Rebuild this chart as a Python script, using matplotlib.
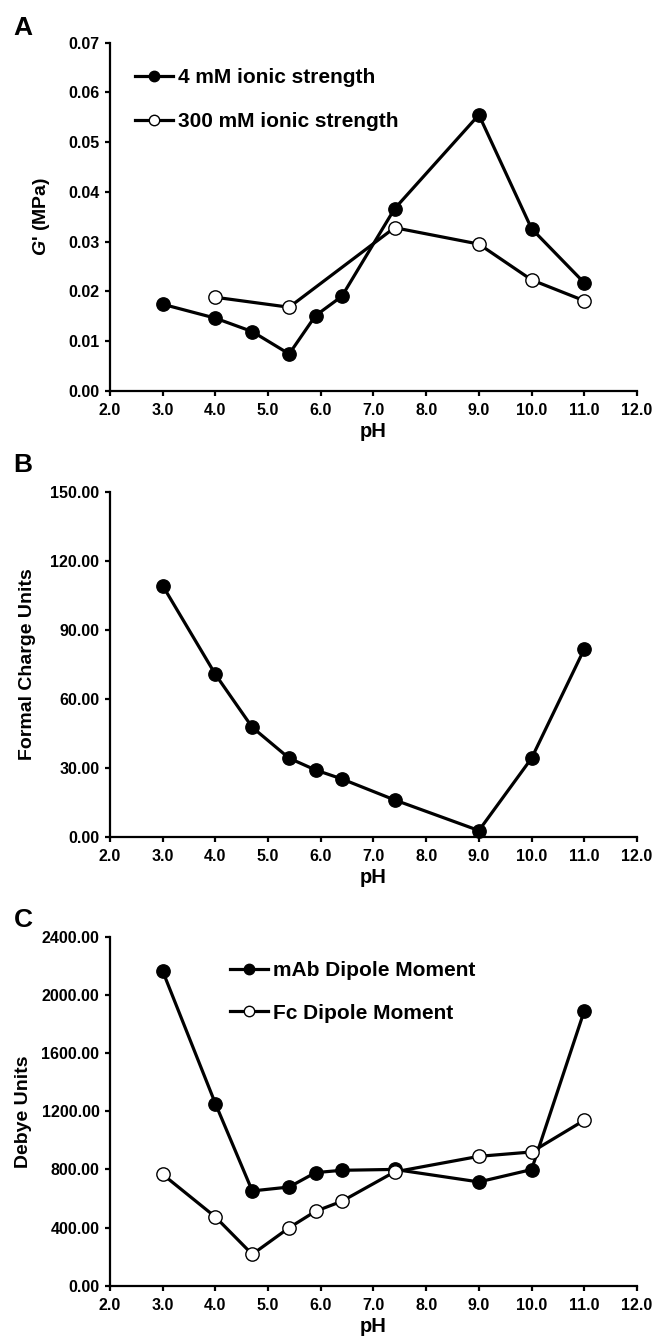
import matplotlib
matplotlib.use('Agg')
import matplotlib.pyplot as plt
import numpy as np
from matplotlib.ticker import FormatStrFormatter

plt.rcParams['font.family'] = ['Liberation Sans', 'DejaVu Sans']
plt.rcParams['font.weight'] = 'bold'
plt.rcParams['mathtext.fontset'] = 'custom'
plt.rcParams['mathtext.it'] = 'Liberation Sans:italic:bold'
plt.rcParams['mathtext.rm'] = 'Liberation Sans:bold'

# panel A - storage modulus
ph_4mM = [3.0, 4.0, 4.7, 5.4, 5.9, 6.4, 7.4, 9.0, 10.0, 11.0]
g_4mM = [0.0174, 0.0146, 0.0119, 0.0074, 0.0151, 0.0190, 0.0366, 0.0555, 0.0326, 0.0217]
ph_300mM = [4.0, 5.4, 7.4, 9.0, 10.0, 11.0]
g_300mM = [0.0188, 0.0168, 0.0328, 0.0295, 0.0223, 0.0181]

# panel B - formal charge
ph_charge = [3.0, 4.0, 4.7, 5.4, 5.9, 6.4, 7.4, 9.0, 10.0, 11.0]
charge = [109.2, 70.7, 47.7, 34.3, 29.2, 25.3, 16.2, 2.9, 34.3, 81.7]

# panel C - dipole moments
ph_dip = [3.0, 4.0, 4.7, 5.4, 5.9, 6.4, 7.4, 9.0, 10.0, 11.0]
mab_dipole = [2164, 1253, 652, 679, 778, 794, 800, 714, 799, 1891]
fc_dipole = [766, 473, 216, 399, 512, 581, 783, 890, 920, 1138]

xticks = np.arange(2.0, 12.1, 1.0)

fig = plt.figure(figsize=(6.55, 13.4), dpi=100)
left, width = 0.1679, 0.8046
axA = fig.add_axes([left, 0.7084, width, 0.2597])
axB = fig.add_axes([left, 0.3752, width, 0.2579])
axC = fig.add_axes([left, 0.0405, width, 0.2604])

line_kw = dict(color='black', lw=2.3, marker='o', ms=9.6, mew=1.0, mec='black', clip_on=False)
leg_kw = dict(loc='upper left', bbox_transform=fig.transFigure, frameon=False,
              handlelength=1.8, handletextpad=0.28, borderpad=0, borderaxespad=0,
              prop={'weight': 'bold', 'size': 15})

def style_ax(ax, ylim, ystep, ylabel, ylab_x):
    ax.set_xlim(2, 12)
    ax.set_ylim(*ylim)
    ax.set_xticks(xticks)
    ax.set_yticks(np.arange(ylim[0], ylim[1] + ystep / 2, ystep))
    ax.xaxis.set_major_formatter(FormatStrFormatter('%.1f'))
    for s in ['top', 'right']:
        ax.spines[s].set_visible(False)
    for s in ['left', 'bottom']:
        ax.spines[s].set_linewidth(1.6)
    ax.tick_params(direction='out', length=3.6, width=1.6, labelsize=11.5, pad=4)
    ax.tick_params(axis='x', pad=5)
    for lab in ax.get_xticklabels() + ax.get_yticklabels():
        lab.set_fontweight('bold')
    ax.set_xlabel('pH', fontsize=14.5, fontweight='bold', labelpad=3)
    ax.set_ylabel(ylabel, fontsize=14, fontweight='bold')
    ax.yaxis.set_label_coords(ylab_x, 0.5)

def shrink_legend_markers(leg):
    for h in leg.legend_handles:
        h.set_markersize(7.5)

# A
axA.plot(ph_4mM, g_4mM, mfc='black', label='4 mM ionic strength', **line_kw)
axA.plot(ph_300mM, g_300mM, mfc='white', label='300 mM ionic strength', **line_kw)
style_ax(axA, (0, 0.07), 0.01, "$\\it{G}$' (MPa)", -0.110)
axA.yaxis.set_major_formatter(FormatStrFormatter('%.2f'))
legA = axA.legend(bbox_to_anchor=(135 / 655, 0.949), labelspacing=1.2, **leg_kw)
shrink_legend_markers(legA)

# B
axB.plot(ph_charge, charge, mfc='black', **line_kw)
style_ax(axB, (0, 150), 30, 'Formal Charge Units', -0.140)
axB.yaxis.set_major_formatter(FormatStrFormatter('%.2f'))

# C
axC.plot(ph_dip, mab_dipole, mfc='black', label='mAb Dipole Moment', **line_kw)
axC.plot(ph_dip, fc_dipole, mfc='white', label='Fc Dipole Moment', **line_kw)
style_ax(axC, (0, 2400), 400, 'Debye Units', -0.148)
axC.yaxis.set_major_formatter(FormatStrFormatter('%.2f'))
legC = axC.legend(bbox_to_anchor=(230 / 655, 1 - 961 / 1340), labelspacing=1.14, **leg_kw)
shrink_legend_markers(legC)

# panel letters
for letter, y in [('A', 28), ('B', 465), ('C', 920)]:
    fig.text(23 / 655, 1 - y / 1340, letter, fontsize=19, fontweight='bold', ha='center', va='center')

fig.savefig('out.png', dpi=100)
